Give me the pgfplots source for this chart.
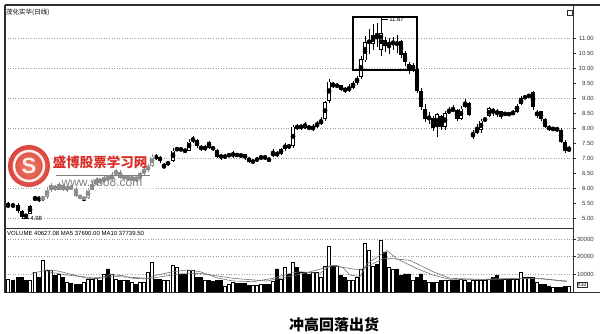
\documentclass[border=0pt]{standalone}
\usepackage{pgfplots}
\pgfplotsset{compat=1.18}
\usepackage{pgfplotstable}
\usepackage{fontspec}
\setmainfont{Liberation Sans}
\newfontfamily\cjk{Noto Sans CJK SC}

\definecolor{framec}{gray}{0.18}
\definecolor{gridc}{gray}{0.62}
\definecolor{wmred}{RGB}{214,48,42}
\definecolor{wmorange}{RGB}{236,112,82}
\definecolor{wmgray}{gray}{0.5}
\definecolor{malines}{gray}{0.45}

% daily bars: position, open, high, low, close, volume
\pgfplotstableread{
x o h l c v
8 5.40 5.55 5.33 5.42 7300
13 5.42 5.50 5.35 5.40 6400
18 5.45 5.50 5.18 5.22 8300
22 5.25 5.28 4.98 5.05 8300
26 5.08 5.15 5.00 5.06 6400
30 5.15 5.45 5.12 5.40 6400
35 5.62 5.75 5.58 5.65 11200
39 5.66 5.70 5.55 5.64 8300
43 5.63 5.72 5.60 5.68 17900
47 5.70 6.05 5.65 5.95 12100
51 5.92 6.18 5.88 6.10 12100
55 6.05 6.10 5.90 5.98 9200
59 5.95 6.20 5.92 6.12 10200
63 6.10 6.15 5.90 5.95 8300
67 5.93 6.10 5.88 6.05 5400
71 6.02 6.10 5.92 6.00 4900
76 5.98 6.02 5.70 5.75 4400
80 5.72 5.78 5.62 5.70 4400
84 5.62 5.72 5.58 5.65 5400
88 5.68 6.00 5.65 5.95 7300
92 5.95 6.22 5.92 6.15 7300
96 6.15 6.35 6.10 6.25 7700
100 6.25 6.35 6.15 6.20 6400
104 6.22 6.42 6.18 6.35 10200
108 6.35 6.45 6.25 6.30 13100
112 6.30 6.52 6.25 6.45 10200
116 6.48 6.62 6.42 6.55 7300
120 6.55 6.60 6.30 6.35 6400
124 6.35 6.45 6.28 6.38 6400
128 6.38 6.42 6.22 6.30 6400
132 6.30 6.40 6.25 6.35 5400
136 6.35 6.40 6.20 6.28 4400
140 6.30 6.55 6.25 6.50 5400
144 6.50 6.68 6.45 6.60 5400
148 6.60 6.80 6.55 6.72 11200
152 6.75 7.15 6.70 7.05 16900
156 7.05 7.12 6.95 7.00 7300
160 7.02 7.08 6.85 6.92 7300
164 6.70 6.82 6.62 6.78 6400
168 6.80 6.90 6.75 6.85 6400
173 6.90 7.35 6.88 7.25 15000
177 7.28 7.38 7.22 7.30 14000
181 7.30 7.35 7.22 7.28 10200
185 7.25 7.32 7.18 7.22 10200
189 7.25 7.65 7.22 7.55 12100
193 7.58 7.75 7.50 7.62 12100
197 7.60 7.65 7.35 7.40 8300
201 7.38 7.42 7.25 7.30 8300
205 7.30 7.42 7.25 7.35 6400
209 7.55 7.58 7.30 7.35 6400
213 7.35 7.40 7.25 7.30 5900
217 7.28 7.30 7.00 7.05 6400
221 7.10 7.15 6.95 7.00 6400
225 7.02 7.12 6.98 7.08 3500
229 7.08 7.18 7.02 7.10 4400
233 7.10 7.25 7.00 7.12 5400
237 7.12 7.18 7.02 7.08 4900
241 7.10 7.15 7.00 7.08 4900
245 7.12 7.15 6.95 7.00 4900
249 7.00 7.05 6.85 6.88 3900
253 6.85 6.95 6.82 6.90 3900
257 6.92 7.02 6.88 6.98 3900
261 7.00 7.10 6.95 7.02 4400
265 7.08 7.10 6.92 6.98 4400
269 6.95 7.02 6.88 6.92 4400
273 7.10 7.30 7.05 7.15 5900
277 7.15 7.22 7.05 7.10 13100
281 7.12 7.35 7.10 7.30 7300
285 7.30 7.50 7.25 7.45 14000
289 7.42 7.48 7.30 7.35 10200
293 7.40 8.10 7.35 8.05 16900
297 8.05 8.12 7.95 8.00 14000
301 8.00 8.15 7.92 8.08 11200
305 8.08 8.20 7.98 8.02 11200
309 8.05 8.10 7.92 7.98 10200
313 7.95 8.12 7.90 8.05 11200
317 8.05 8.25 8.00 8.15 11200
321 8.15 8.35 8.10 8.25 8300
325 8.30 8.90 8.25 8.85 14700
329 8.90 9.65 8.85 9.55 25600
333 9.45 9.55 9.35 9.40 14700
337 9.40 9.50 9.32 9.42 14700
341 9.42 9.45 9.22 9.28 9200
345 9.30 9.35 9.18 9.25 8300
349 9.25 9.45 9.20 9.35 6400
353 9.35 9.58 9.30 9.50 6400
357 9.50 9.75 9.45 9.68 8300
361 9.70 10.40 9.65 10.30 13100
365 10.25 11.05 10.20 10.85 27600
369 10.85 11.30 10.45 10.90 23700
373 10.80 11.45 10.60 11.10 14700
377 11.05 11.50 10.70 11.00 15500
381 10.60 11.67 10.40 11.15 29500
385 10.95 11.05 10.55 10.75 22700
389 10.75 11.00 10.45 10.85 14000
393 10.82 11.05 10.60 10.88 13100
397 10.85 11.10 10.50 10.80 13100
401 10.90 10.95 10.35 10.45 9200
405 10.50 10.55 10.05 10.20 10200
409 10.15 10.20 9.80 9.95 10200
413 9.95 10.15 9.85 10.10 6400
417 9.98 10.02 9.15 9.25 8300
421 9.25 9.35 8.60 8.70 10200
425 8.65 8.80 8.20 8.30 6400
429 8.30 8.55 8.15 8.35 5400
433 8.35 8.40 7.90 8.00 5400
437 8.05 8.50 7.70 8.45 5400
441 8.40 8.45 7.95 8.05 6400
445 8.05 8.55 7.95 8.50 6400
449 8.50 8.70 8.45 8.60 6400
453 8.62 8.75 8.52 8.58 6400
457 8.60 8.62 8.25 8.30 6400
461 8.30 8.72 8.25 8.65 7300
465 8.70 8.98 8.65 8.85 6400
469 8.85 8.88 8.40 8.45 5400
473 7.72 7.95 7.65 7.80 6400
477 7.85 8.15 7.80 7.95 6400
481 7.95 8.30 7.85 8.25 6400
485 8.25 8.38 8.20 8.30 6400
489 8.40 8.70 8.35 8.65 7300
493 8.60 8.68 8.40 8.55 8300
497 8.55 8.62 8.38 8.50 9200
501 8.55 8.58 8.30 8.38 7300
505 8.45 8.55 8.40 8.48 7300
509 8.48 8.52 8.40 8.45 7300
513 8.45 8.60 8.42 8.55 7300
517 8.55 8.80 8.50 8.75 7300
521 8.80 9.05 8.75 9.00 11200
525 9.00 9.10 8.95 9.05 8300
529 9.05 9.15 9.00 9.08 8300
533 9.20 9.25 8.60 8.70 8300
537 8.40 8.60 8.35 8.55 5400
541 8.55 8.58 8.25 8.30 4400
545 8.30 8.35 8.00 8.05 4400
549 8.05 8.10 7.90 7.95 3500
553 7.95 8.05 7.90 7.98 2500
557 7.98 8.02 7.88 7.95 2500
561 7.95 8.00 7.50 7.55 2800
565 7.55 7.60 7.18 7.25 3000
569 7.25 7.40 7.22 7.30 3000
}\candles

\pgfplotsset{
  panel/.style={
    scale only axis, anchor=north west,
    xmin=5, xmax=573,
    axis x line=none, axis y line*=right,
    y axis line style={draw=none},
    ymajorgrids,
    major grid style={gridc, dash pattern=on 1pt off 1.6pt, line width=0.4pt},
    tick align=outside, major tick length=3pt,
    tick style={framec, line width=0.5pt},
    yticklabel style={font=\fontsize{6}{7}\selectfont, text=black!80,
      anchor=west, text width=17pt, align=right, inner sep=0.5pt},
    /pgf/number format/assume math mode=true,
    clip=false,
  },
  candlebar/.style={only marks, mark=none, unbounded coords=discard,
    error bars/.cd, y dir=both, y explicit, error mark=none,
    error bar style={#1}},
}

\begin{document}
\begin{tikzpicture}[x=1pt,y=1pt]
\path[use as bounding box] (0pt,0pt) rectangle (600pt,-334pt);

% price panel
\begin{axis}[panel,
  at={(5pt,-5pt)}, width=568pt, height=223pt,
  ymin=4.6667, ymax=12.1,
  ytick={5,6,...,11},
  extra y ticks={5.5,6.5,...,10.5},
  extra y tick style={grid=none},
  /pgf/number format/fixed, /pgf/number format/fixed zerofill,
  /pgf/number format/precision=2,
]
% high-low wicks
\addplot[candlebar={draw=black, line width=0.7pt}]
  table[x=x, y expr={(\thisrow{h}+\thisrow{l})/2},
        y error expr={(\thisrow{h}-\thisrow{l})/2}] {\candles};
% bodies
\addplot[candlebar={draw=black, line width=3.4pt}]
  table[x=x, y expr={(\thisrow{o}+\thisrow{c})/2},
        y error expr={max(abs(\thisrow{c}-\thisrow{o})/2,0.025)}] {\candles};
% hollow rising bodies
\addplot[candlebar={draw=white, line width=2.3pt}]
  table[x=x, y expr={\thisrow{c}-\thisrow{o}>0.06 ? (\thisrow{o}+\thisrow{c})/2 : nan},
        y error expr={abs(\thisrow{c}-\thisrow{o})/2-0.03}] {\candles};

\draw[line width=1.3pt, black] (axis cs:353,9.93) rectangle (axis cs:417,11.70);
\draw[black, line width=0.5pt] (axis cs:381,11.62) -- (axis cs:388,11.62)
  node[right, inner sep=1pt, font=\fontsize{6}{7}\selectfont] {11.67};
\draw[black, line width=0.5pt] (axis cs:22,4.98) -- (axis cs:29,4.98)
  node[right, inner sep=1pt, font=\fontsize{6}{7}\selectfont] {4.98};
\end{axis}

% volume panel
\begin{axis}[panel,
  at={(5pt,-229pt)}, width=568pt, height=63pt,
  ymin=0, ymax=35650,
  ytick={10000,20000,30000},
  scaled y ticks=false,
  /pgf/number format/fixed, /pgf/number format/precision=0,
  /pgf/number format/1000 sep={},
]
\addplot[ybar, bar width=3.4pt, bar shift=0pt, fill=white, draw=black, line width=0.55pt,
  unbounded coords=discard]
  table[x=x, y expr={\thisrow{c}>=\thisrow{o} ? \thisrow{v} : nan}] {\candles};
\addplot[ybar, bar width=3.4pt, bar shift=0pt, fill=black, draw=black, line width=0.55pt,
  unbounded coords=discard]
  table[x=x, y expr={\thisrow{c}<\thisrow{o} ? \thisrow{v} : nan}] {\candles};
% MA5
\addplot[malines, line width=0.6pt] coordinates {
(32,10550) (47,12450) (58,11900) (87,7740) (100,7740) (110,9900) (123,9200)
(133,7740) (147,7400) (157,9600) (173,11500) (187,12450) (200,11500) (217,8000)
(233,6230) (253,5850) (273,7740) (290,10550) (300,11500) (320,10550) (330,15000)
(337,15000) (343,13800) (350,9600) (360,8700) (367,15950) (377,19700) (387,23400)
(397,18800) (417,13200) (433,9600) (450,7150) (483,7150) (517,7740) (540,7740)
(567,5850)};
% MA10
\addplot[malines, line width=0.6pt] coordinates {
(47,11500) (67,9600) (93,8000) (117,8700) (150,7740) (180,10200) (200,10550)
(233,7740) (267,6230) (300,10000) (333,14800) (360,12450) (383,18800) (393,18800)
(410,17900) (433,11500) (450,7740) (483,7150) (533,7740) (567,6230)};
\end{axis}

% window frame
\draw[framec, line width=1.3pt] (5pt,-5pt) -- (600pt,-5pt);
\draw[framec, line width=1.3pt] (5pt,-292.5pt) -- (600pt,-292.5pt);
\draw[framec, line width=1.2pt] (5pt,-5pt) -- (5pt,-292.5pt);
\draw[framec, line width=1.2pt] (5pt,-228.5pt) -- (573pt,-228.5pt);
\draw[framec, line width=0.8pt] (573pt,-5pt) -- (573pt,-292.5pt);
\draw[framec, line width=0.5pt] (567pt,-10pt) rectangle (572pt,-15pt);

\node[anchor=west, inner sep=0, font=\cjk\fontsize{6.5}{7}\selectfont] at (6pt,-12.5pt) {茂化实华(日线)};
\node[anchor=west, inner sep=0, font=\fontsize{6}{7}\selectfont] at (7pt,-233pt)
  {VOLUME 40627.08 MA5 37690.00 MA10 37739.50};
\node[draw=framec, line width=0.4pt, inner sep=0.8pt, font=\fontsize{5}{6}\selectfont]
  at (582pt,-285pt) {X10};

% site watermark
\fill[white, opacity=0.55] (40pt,-140pt) rectangle (155pt,-200pt);
\begin{scope}[opacity=0.9]
\shade[inner color=wmorange, outer color=wmred] (29pt,-166pt) circle (21pt);
\draw[white, line width=2.5pt] (29pt,-166pt) circle (15pt);
\node[text=white, font=\bfseries\fontsize{22}{22}\selectfont] at (29pt,-166pt) {S};
\end{scope}
\node[text=wmred, font=\cjk\bfseries\fontsize{13.5}{14}\selectfont, inner sep=0] at (100pt,-162pt)
  {盛博股票学习网};
\draw[wmgray, line width=0.5pt] (56pt,-175pt) -- (150pt,-175pt);
\node[text=wmgray, font=\fontsize{12}{13}\selectfont, inner sep=0] at (102pt,-182.5pt) {www.sbo8.com};

% caption
\node[font=\cjk\bfseries\fontsize{15}{16}\selectfont, inner sep=0] at (334pt,-325pt) {冲高回落出货};
\end{tikzpicture}
\end{document}
